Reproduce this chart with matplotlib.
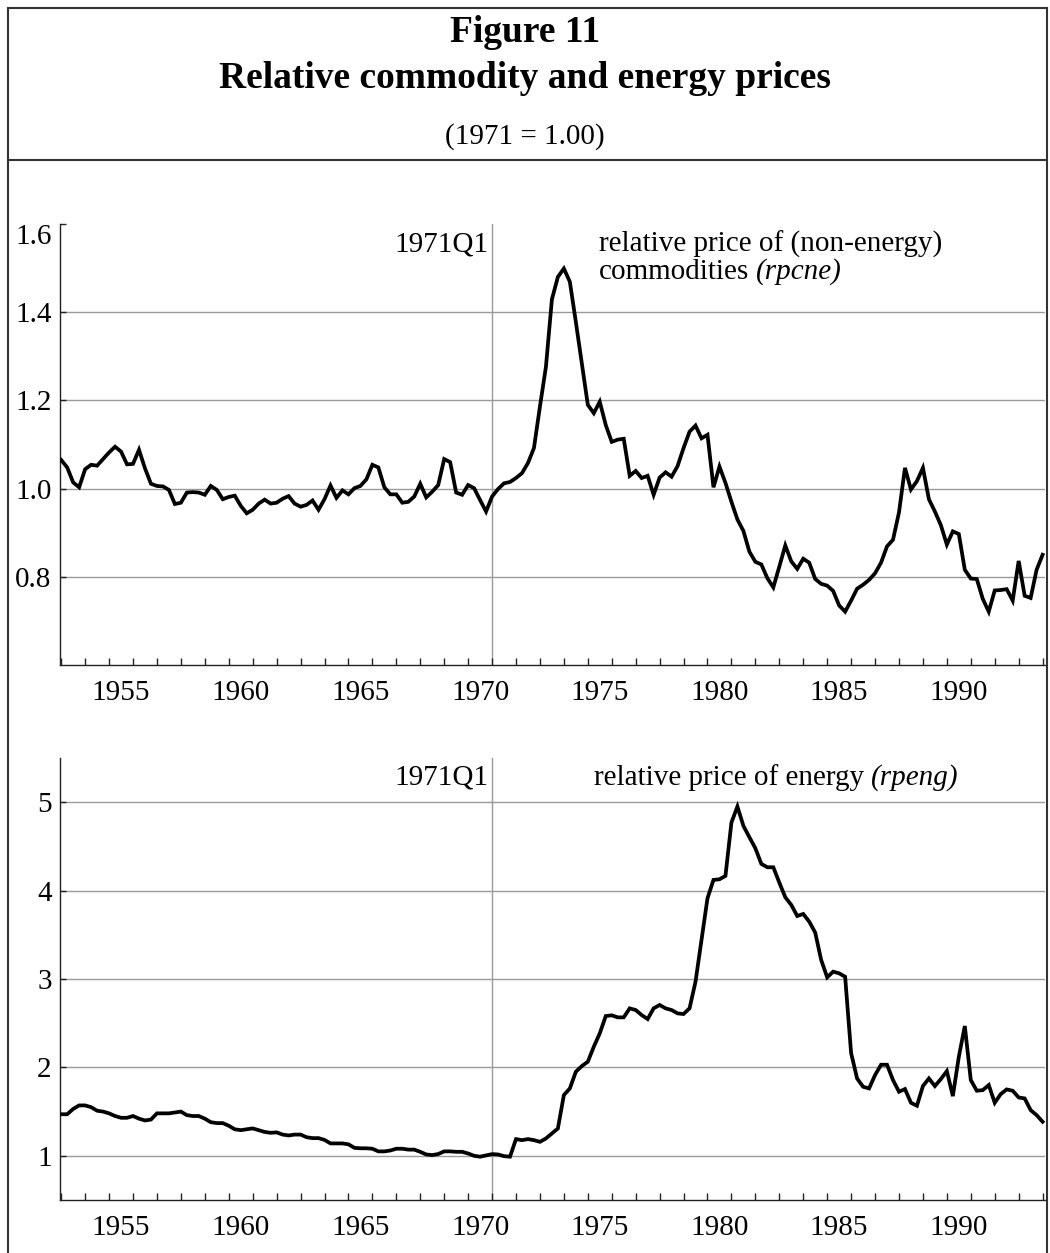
import numpy as np
import matplotlib.pyplot as plt
from matplotlib.lines import Line2D

plt.rcParams['font.family'] = ['Liberation Serif', 'DejaVu Serif']

# quarterly series, 1953Q1 to 1994Q1 (1971 = 1.00)
first_year = 1953

rpcne = [1.065, 1.048, 1.014, 1.003, 1.044, 1.054, 1.052, 1.067, 1.082, 1.095,
         1.084, 1.055, 1.056, 1.088, 1.046, 1.011, 1.006, 1.005, 0.997, 0.965,
         0.968, 0.991, 0.992, 0.991, 0.986, 1.006, 0.997, 0.976, 0.981, 0.984,
         0.961, 0.944, 0.952, 0.966, 0.975, 0.966, 0.968, 0.977, 0.983, 0.966,
         0.959, 0.963, 0.973, 0.952, 0.976, 1.007, 0.979, 0.996, 0.987, 1.001,
         1.006, 1.021, 1.054, 1.048, 1.003, 0.987, 0.987,
         0.968, 0.970, 0.982, 1.011, 0.980, 0.993, 1.008, 1.067, 1.060, 0.991,
         0.986, 1.008, 1.001, 0.974, 0.948, 0.982, 0.999, 1.012, 1.015, 1.024,
         1.035, 1.058, 1.092, 1.186, 1.276, 1.429, 1.480, 1.499, 1.469, 1.378,
         1.284, 1.190, 1.171, 1.197, 1.144, 1.106, 1.111, 1.113, 1.029, 1.040,
         1.024, 1.029, 0.986, 1.025, 1.037, 1.027, 1.051, 1.092, 1.129, 1.143,
         1.114, 1.122, 1.003,
         1.050, 1.013, 0.970, 0.930, 0.904, 0.857, 0.834, 0.828, 0.797, 0.776,
         0.823, 0.871, 0.835, 0.818, 0.841, 0.832, 0.795, 0.784, 0.780, 0.768,
         0.735, 0.721, 0.746, 0.773, 0.782, 0.793, 0.808, 0.832, 0.869, 0.884,
         0.946, 1.047, 0.998, 1.017, 1.047, 0.976, 0.948, 0.917, 0.873, 0.903,
         0.897, 0.816, 0.796, 0.795, 0.750, 0.721, 0.769, 0.770, 0.772, 0.746,
         0.836, 0.757, 0.752, 0.816, 0.850]

rpeng = [1.47, 1.47, 1.53, 1.57, 1.57, 1.55, 1.51, 1.50, 1.48, 1.45,
         1.43, 1.43, 1.45, 1.42, 1.40, 1.41, 1.48, 1.48, 1.48, 1.49,
         1.50, 1.46, 1.45, 1.45, 1.42, 1.38, 1.37, 1.37, 1.34, 1.30,
         1.29, 1.30, 1.31, 1.29, 1.27, 1.26, 1.265, 1.24, 1.23, 1.24,
         1.24, 1.21, 1.20, 1.20, 1.18, 1.14, 1.14, 1.14, 1.13, 1.09,
         1.085, 1.085, 1.08, 1.05, 1.05, 1.06, 1.08,
         1.08, 1.07, 1.07, 1.045, 1.015, 1.008, 1.02, 1.05, 1.05, 1.045,
         1.045, 1.026, 1.00, 0.99, 1.005, 1.019, 1.015, 0.996, 0.99, 1.189,
         1.177, 1.189, 1.177, 1.158, 1.196, 1.253, 1.309, 1.687, 1.762, 1.951,
         2.015, 2.064, 2.234, 2.385, 2.581, 2.589, 2.566, 2.566, 2.668, 2.649,
         2.592, 2.547, 2.668, 2.706, 2.668, 2.649, 2.611, 2.604, 2.668, 2.970,
         3.442, 3.913, 4.121,
         4.128, 4.166, 4.770, 4.951, 4.732, 4.604, 4.479, 4.302, 4.264, 4.264,
         4.091, 3.925, 3.838, 3.713, 3.736, 3.649, 3.525, 3.215, 3.019, 3.083,
         3.064, 3.026, 2.162, 1.875, 1.781, 1.762, 1.913, 2.030, 2.030, 1.857,
         1.725, 1.755, 1.600, 1.566, 1.789, 1.875, 1.789, 1.868, 1.958, 1.675,
         2.121, 2.468, 1.857, 1.736, 1.743, 1.800, 1.600, 1.698, 1.751, 1.736,
         1.660, 1.649, 1.517, 1.460, 1.385]

year_labels = [1955, 1960, 1965, 1970, 1975, 1980, 1985, 1990]
top_ticks = [0.8, 1.0, 1.2, 1.4, 1.6]
bottom_ticks = [1, 2, 3, 4, 5]

t = first_year + np.arange(len(rpcne)) / 4

W, H = 1050, 1253
fig = plt.figure(figsize=(W / 100, H / 100), dpi=100)

grid_col = '#9a9a9a'
spine_col = '#222222'
fs = 21


def setup(ax, ticks, ylim):
    ax.set_xlim(1952.95, 1994.1)
    ax.set_ylim(*ylim)
    ax.spines[['top', 'right']].set_visible(False)
    ax.spines[['left', 'bottom']].set_color(spine_col)
    ax.spines[['left', 'bottom']].set_linewidth(1.0)
    for v in ticks:
        if v < ylim[1] - 1e-9:
            ax.axhline(v, color=grid_col, lw=1.0, zorder=1)
    ax.axvline(1971.0, color=grid_col, lw=1.0, zorder=1)
    ax.set_yticks(ticks, labels=[f'{v:.1f}' if isinstance(v, float) else str(v) for v in ticks])
    ax.tick_params(axis='y', direction='in', length=4, width=1, color=spine_col,
                   labelsize=fs, pad=6)
    ax.set_xticks(np.array(year_labels) + 0.5, labels=[str(y) for y in year_labels])
    ax.set_xticks(range(1953, 1995), minor=True)
    ax.tick_params(axis='x', which='major', length=0, labelsize=fs, pad=11)
    ax.tick_params(axis='x', which='minor', direction='in', length=5, width=1,
                   color=spine_col)


# top panel: non-energy commodities
ax1 = fig.add_axes([60 / W, 1 - 665 / H, 985 / W, 441 / H])
setup(ax1, top_ticks, (0.6, 1.6))
ax1.get_yticklabels()[-1].set_va('top')
ax1.plot(t, rpcne, color='black', lw=2.7, zorder=3, solid_joinstyle='miter')
ax1.text(1970.85, 1.553, '1971Q1', ha='right', va='center', fontsize=fs)
ax1.text(1975.45, 1.553, 'relative price of (non-energy)', ha='left', va='center', fontsize=fs)
c1 = ax1.text(1975.45, 1.491, 'commodities', ha='left', va='center', fontsize=fs)
ax1.annotate('(rpcne)', xy=(1, 0), xycoords=c1, xytext=(5, 0), textcoords='offset points',
             ha='left', va='bottom', fontsize=fs, style='italic')

# bottom panel: energy
ax2 = fig.add_axes([60 / W, 1 - 1200 / H, 985 / W, 442 / H])
setup(ax2, bottom_ticks, (0.5, 5.5))
ax2.plot(t, rpeng, color='black', lw=2.7, zorder=3, solid_joinstyle='miter')
ax2.text(1970.85, 5.28, '1971Q1', ha='right', va='center', fontsize=fs)
c2 = ax2.text(1975.25, 5.28, 'relative price of energy', ha='left', va='center', fontsize=fs)
ax2.annotate('(rpeng)', xy=(1, 0), xycoords=c2, xytext=(5, 0), textcoords='offset points',
             ha='left', va='bottom', fontsize=fs, style='italic')

# titles
fig.text(0.5, 1 - 32 / H, 'Figure 11', ha='center', va='center', fontsize=27, fontweight='bold')
fig.text(0.5, 1 - 78 / H, 'Relative commodity and energy prices', ha='center', va='center',
         fontsize=27, fontweight='bold')
fig.text(0.5, 1 - 137 / H, '(1971 = 1.00)', ha='center', va='center', fontsize=fs)

# frame around the figure
frame = dict(color='#333333', lw=1.5, transform=fig.transFigure)
fig.add_artist(Line2D([8 / W, 8 / W], [0, 1 - 8 / H], **frame))
fig.add_artist(Line2D([1047 / W, 1047 / W], [0, 1 - 8 / H], **frame))
fig.add_artist(Line2D([8 / W, 1047 / W], [1 - 8 / H, 1 - 8 / H], **frame))
fig.add_artist(Line2D([8 / W, 1047 / W], [1 - 160 / H, 1 - 160 / H], **frame))

fig.savefig('out.png', dpi=100)
